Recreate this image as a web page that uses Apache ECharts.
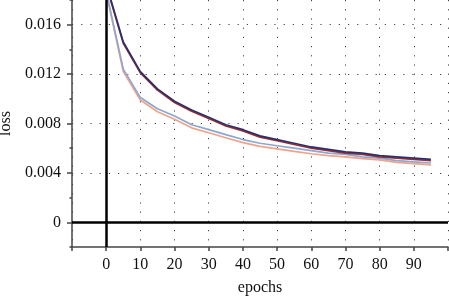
<!DOCTYPE html>
<html>
<head>
<meta charset="utf-8">
<script src="https://cdn.jsdelivr.net/npm/echarts@6/dist/echarts.min.js"></script>
<style>
  html, body { margin: 0; padding: 0; background: #fff; }
  #chart { width: 449px; height: 297px; }
</style>
</head>
<body>
<div id="chart"></div>
<script>
const epochs = [0, 5, 10, 15, 20, 25, 30, 35, 40, 45, 50, 55, 60, 65, 70, 75, 80, 85, 90, 95];

const navyLoss = [0.0193, 0.0146, 0.0122, 0.0108, 0.0098, 0.0091, 0.0085, 0.0079, 0.0075, 0.0070, 0.0067, 0.0064, 0.0061, 0.0059, 0.0057, 0.0056, 0.0054, 0.0053, 0.0052, 0.0051];
const redLoss = [0.0192, 0.0145, 0.0121, 0.0107, 0.0097, 0.0090, 0.0084, 0.0078, 0.0074, 0.0069, 0.0066, 0.0063, 0.0060, 0.0058, 0.0056, 0.0055, 0.0053, 0.0052, 0.0051, 0.0050];
const blueLoss = [0.0187, 0.0124, 0.0101, 0.0092, 0.0086, 0.0079, 0.0075, 0.0071, 0.0067, 0.0064, 0.0062, 0.0060, 0.0058, 0.0056, 0.0055, 0.0053, 0.0052, 0.0050, 0.0049, 0.0048];
const salmonLoss = [0.0186, 0.0122, 0.0099, 0.00895, 0.00835, 0.00765, 0.00725, 0.00685, 0.00645, 0.00615, 0.00595, 0.00575, 0.00555, 0.00540, 0.00530, 0.00515, 0.00505, 0.00485, 0.00475, 0.00465];

const yMajorTicks = [0, 0.004, 0.008, 0.012, 0.016];
const yMinorTicks = [-0.002, 0.002, 0.006, 0.010, 0.014, 0.018];
const xTickLabels = [0, 10, 20, 30, 40, 50, 60, 70, 80, 90];

const serif = '"Liberation Serif", "Times New Roman", serif';

const pairs = (ys) => epochs.map((x, i) => [x, ys[i]]);

const chart = echarts.init(document.getElementById('chart'), null, { renderer: 'canvas' });

const lineSeries = (name, color, data) => ({
  name,
  type: 'line',
  data: pairs(data),
  showSymbol: false,
  smooth: false,
  animation: false,
  clip: true,
  lineStyle: { width: 1.7, color },
  z: 3
});

chart.setOption({
  backgroundColor: '#fff',
  animation: false,
  grid: { left: 72, right: 1, top: 0, bottom: 50, containLabel: false, outerBoundsMode: 'none' },
  xAxis: {
    type: 'value',
    min: -10,
    max: 100,
    interval: 10,
    name: 'epochs',
    nameLocation: 'middle',
    nameGap: 33,
    nameTextStyle: { fontFamily: serif, fontSize: 16, color: '#111' },
    axisLine: { onZero: false, lineStyle: { color: '#444', width: 1.5 } },
    axisTick: { show: true, length: 4, lineStyle: { color: '#444', width: 1.5 } },
    axisLabel: {
      fontFamily: serif, fontSize: 16, color: '#111', margin: 10,
      formatter: (v) => (xTickLabels.includes(v) ? String(v) : '')
    },
    splitLine: { show: true, lineStyle: { color: '#444', width: 1, type: [1.2, 8] } }
  },
  yAxis: [
    {
      type: 'value',
      min: -0.002,
      max: 0.018,
      interval: 0.002,
      name: 'loss',
      nameLocation: 'middle',
      nameGap: 52,
      nameTextStyle: { fontFamily: serif, fontSize: 16, color: '#111' },
      axisLine: { onZero: false, lineStyle: { color: '#444', width: 1.5 } },
      axisTick: { show: true, length: 5, customValues: yMajorTicks, lineStyle: { color: '#444', width: 1.5 } },
      axisLabel: {
        fontFamily: serif, fontSize: 16, color: '#111', margin: 11,
        customValues: yMajorTicks,
        formatter: (v) => (v === 0 ? '0' : v.toFixed(3))
      },
      splitLine: { show: true, lineStyle: { color: '#444', width: 1, type: [1.2, 8] } }
    },
    {
      type: 'value',
      min: -0.002,
      max: 0.018,
      interval: 0.002,
      position: 'left',
      axisLine: { show: false, onZero: false },
      axisTick: { show: true, length: 2.5, customValues: yMinorTicks, lineStyle: { color: '#444', width: 1.5 } },
      axisLabel: { show: false },
      splitLine: { show: false }
    }
  ],
  series: [
    lineSeries('salmon', '#eea48a', salmonLoss),
    lineSeries('blue', '#8ea6d0', blueLoss),
    lineSeries('red', '#9b2f2a', redLoss),
    Object.assign(lineSeries('navy', '#2b2f6e', navyLoss), {
      markLine: {
        silent: true,
        symbol: 'none',
        label: { show: false },
        lineStyle: { color: '#000', width: 2.5, type: 'solid' },
        data: [{ xAxis: 0 }, { yAxis: 0 }]
      }
    })
  ]
});
</script>
</body>
</html>
